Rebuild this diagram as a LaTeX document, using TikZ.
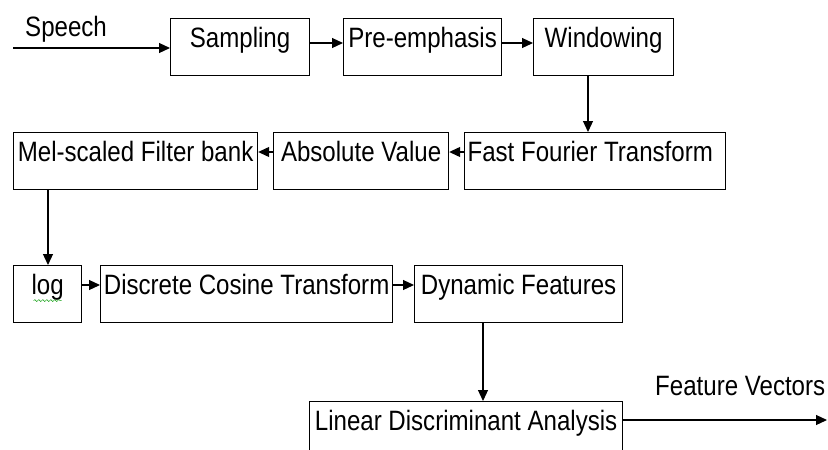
\documentclass[tikz,border=0pt]{standalone}
\usepackage{fontspec}
\setmainfont{Liberation Sans}[FakeStretch=0.86]
\usetikzlibrary{arrows.meta,decorations.pathmorphing}

\begin{document}
\begin{tikzpicture}[x=1pt,y=-1pt,
  blk/.style={draw, line width=1.2pt, anchor=north west, inner xsep=1pt, inner ysep=2pt,
    text height=27pt, text depth=26pt, font=\fontsize{28}{32}\selectfont},
  lbl/.style={inner sep=0pt, font=\fontsize{28}{32}\selectfont},
  arr/.style={line width=1.2pt, -{Triangle[length=11pt,width=10pt]}}]
\useasboundingbox (0,0) rectangle (828,450);
\clip (0,0) rectangle (828,450);
\path (170,18) node[blk, minimum width=139pt] (samp) {Sampling}
      (343,18) node[blk, minimum width=158pt] (pre) {Pre-emphasis}
      (533,18) node[blk, minimum width=140pt] (win) {Windowing}
      (464,132) node[blk] (fft) {\makebox[259pt][l]{\hspace{2pt}Fast Fourier Transform}}
      (273,132) node[blk, minimum width=175pt] (abs) {Absolute Value}
      (13,132) node[blk, minimum width=244pt] (mel) {Mel-scaled Filter bank}
      (13,265) node[blk, minimum width=68pt] (log) {log}
      (100,265) node[blk, minimum width=292pt] (dct) {Discrete Cosine Transform}
      (414,265) node[blk, minimum width=208pt] (dyn) {Dynamic Features}
      (309,401) node[blk, minimum width=313pt] (lda) {Linear Discriminant Analysis};
\node[lbl, anchor=base west] (speech) at (25,36) {Speech};
\node[lbl, anchor=base west] (feat) at (655,395) {Feature Vectors};
\coordinate (in) at (13,48);
\coordinate (out) at (827,420);
% signal chain
\draw[arr] (in) -- ([yshift=-30pt]samp.north west);
\draw[arr] ([yshift=-25pt]samp.north east) -- ([yshift=-25pt]pre.north west);
\draw[arr] ([yshift=-25pt]pre.north east) -- ([yshift=-25pt]win.north west);
\draw[arr] ([xshift=55pt]win.south west) -- ([xshift=55pt]win.south west |- fft.north);
\draw[arr] ([yshift=-20pt]fft.north west) -- ([yshift=-20pt]abs.north east);
\draw[arr] ([yshift=-20pt]abs.north west) -- ([yshift=-20pt]mel.north east);
\draw[arr] ([xshift=35pt]mel.south west) -- ([xshift=35pt]mel.south west |- log.north);
\draw[arr] ([yshift=-20pt]log.north east) -- ([yshift=-20pt]dct.north west);
\draw[arr] ([yshift=-20pt]dct.north east) -- ([yshift=-20pt]dyn.north west);
\draw[arr] ([xshift=69pt]dyn.south west) -- ([xshift=69pt]dyn.south west |- lda.north);
\draw[arr] ([yshift=-19pt]lda.north east) -- (out);
%\draw (log.base) node {x};
\draw[green!60!black, decorate, decoration={snake, amplitude=1pt, segment length=4pt}]
  ([xshift=-14pt,yshift=-6pt]log.base) -- ([xshift=14pt,yshift=-6pt]log.base);
\end{tikzpicture}
\end{document}
